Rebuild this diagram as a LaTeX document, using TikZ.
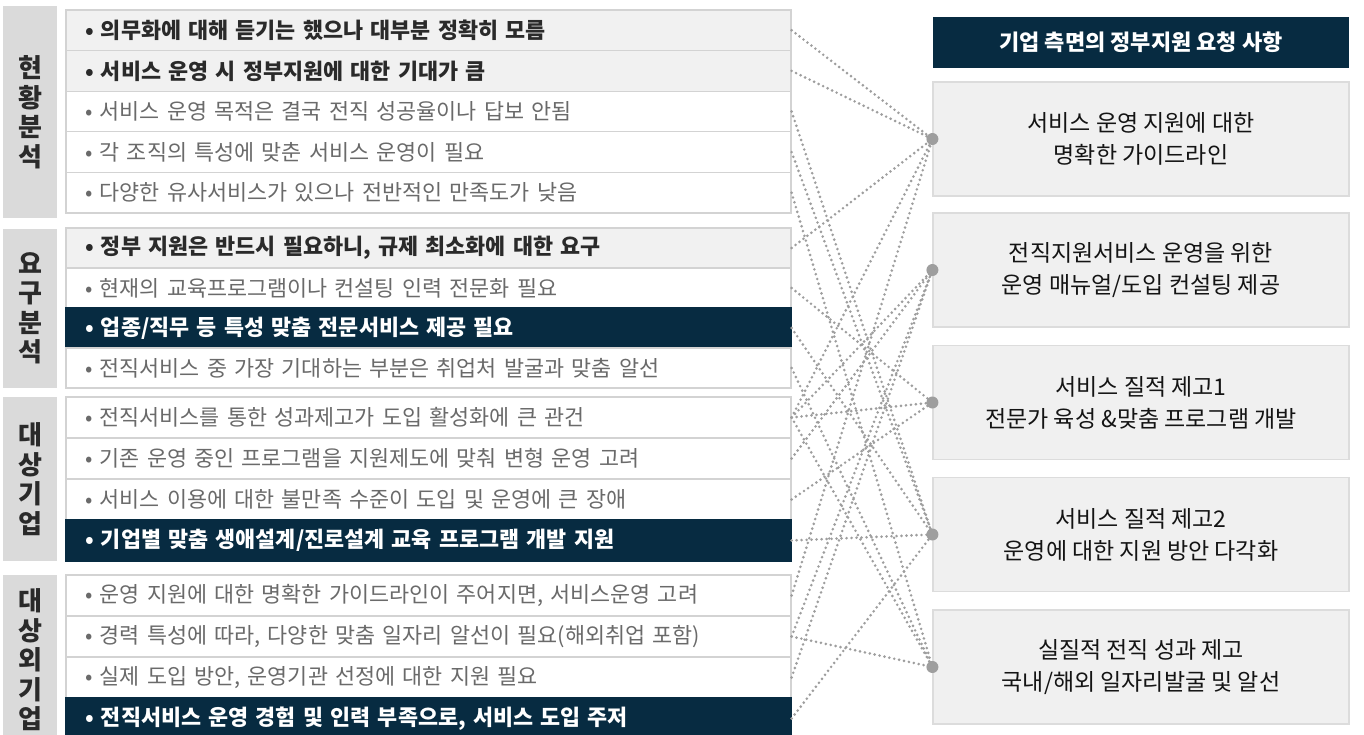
\documentclass[tikz,border=0pt]{standalone}
\usepackage{fontspec}
\setmainfont{Noto Sans CJK KR}
\definecolor{navy}{HTML}{072B41}
\definecolor{catgray}{HTML}{DADADA}
\definecolor{rowgray}{HTML}{F1F1F1}
\definecolor{rowline}{HTML}{D3D3D3}
\definecolor{txtgray}{HTML}{6A6A6A}
\definecolor{txtdark}{HTML}{2A2A2A}
\definecolor{boxfill}{HTML}{F0F0F0}
\definecolor{boxline}{HTML}{DCDCDC}
\definecolor{linegray}{HTML}{9E9E9E}
\begin{document}
\begin{tikzpicture}[x=1pt,y=-1pt,
  rowbase/.style={draw=rowline, line width=1.2pt, minimum width=725pt, minimum height=#1,
    text width=687pt, inner xsep=19pt, inner ysep=0pt, align=left, anchor=center},
  rowplain/.style={rowbase=#1, fill=white, text=txtgray, font=\fontsize{21.8}{26}\selectfont},
  rowhi/.style={rowbase=#1, fill=rowgray, text=txtdark, font=\fontsize{21.8}{26}\selectfont\bfseries},
  rownavy/.style={rowbase=#1, fill=navy, draw=navy, text=white, font=\fontsize{21.8}{26}\selectfont\bfseries},
  cat/.style={fill=catgray, draw=none, minimum width=54pt, minimum height=#1, inner sep=0pt,
    align=center, text=txtdark, font=\fontsize{26}{29.5}\selectfont\bfseries},
  head/.style={fill=navy, draw=none, minimum width=416pt, minimum height=51pt, text=white,
    font=\fontsize{22}{26}\selectfont\bfseries},
  rbox/.style={fill=boxfill, draw=boxline, line width=1.2pt, minimum width=416pt, minimum height=114pt,
    align=center, text=black!92, font=\fontsize{23}{32}\selectfont},
  conn/.style={draw=linegray, line width=2.9pt, line cap=round, dash pattern=on 0pt off 5pt},
  dot/.style={circle, fill=linegray, draw=none, minimum size=12pt, inner sep=0pt}
]
\useasboundingbox (0,0) rectangle (1364,734);
\fill[white] (0,0) rectangle (1364,734);

% category boxes
\node[cat=212pt] (c1) at (30,112) {현\\황\\분\\석};
\node[cat=159pt] (c2) at (30,308.5) {요\\구\\분\\석};
\node[cat=164pt] (c3) at (30,479) {대\\상\\기\\업};
\node[cat=170pt] (c4) at (30,660) {대\\상\\외\\기\\업};

% rows group 1
\node[rowhi=40.6pt] (r1) at (428.5,30.3) {• 의무화에 대해 듣기는 했으나 대부분 정확히 모름};
\node[rowhi=40.6pt] (r2) at (428.5,70.9) {• 서비스 운영 시 정부지원에 대한 기대가 큼};
\node[rowplain=40.6pt] (r3) at (428.5,111.5) {• 서비스 운영 목적은 결국 전직 성공율이나 답보 안됨};
\node[rowplain=40.6pt] (r4) at (428.5,152.1) {• 각 조직의 특성에 맞춘 서비스 운영이 필요};
\node[rowplain=40.6pt] (r5) at (428.5,192.7) {• 다양한 유사서비스가 있으나 전반적인 만족도가 낮음};
% group 2
\node[rowhi=40pt] (r6) at (428.5,248) {• 정부 지원은 반드시 필요하니, 규제 최소화에 대한 요구};
\node[rowplain=40pt] (r7) at (428.5,288) {• 현재의 교육프로그램이나 컨설팅 인력 전문화 필요};
\node[rownavy=40pt] (r8) at (428.5,328) {• 업종/직무 등 특성 맞춤 전문서비스 제공 필요};
\node[rowplain=40pt] (r9) at (428.5,368) {• 전직서비스 중 가장 기대하는 부분은 취업처 발굴과 맞춤 알선};
% group 3
\node[rowplain=41pt] (r10) at (428.5,417.5) {• 전직서비스를 통한 성과제고가 도입 활성화에 큰 관건};
\node[rowplain=41pt] (r11) at (428.5,458.5) {• 기존 운영 중인 프로그램을 지원제도에 맞춰 변형 운영 고려};
\node[rowplain=41pt] (r12) at (428.5,499.5) {• 서비스 이용에 대한 불만족 수준이 도입 및 운영에 큰 장애};
\node[rownavy=41pt] (r13) at (428.5,540.5) {• 기업별 맞춤 생애설계/진로설계 교육 프로그램 개발 지원};
% group 4
\node[rowplain=41pt] (r14) at (428.5,595.5) {• 운영 지원에 대한 명확한 가이드라인이 주어지면, 서비스운영 고려};
\node[rowplain=41pt] (r15) at (428.5,636.5) {• 경력 특성에 따라, 다양한 맞춤 일자리 알선이 필요(해외취업 포함)};
\node[rowplain=41pt] (r16) at (428.5,677.5) {• 실제 도입 방안, 운영기관 선정에 대한 지원 필요};
\node[rownavy=41pt] (r17) at (428.5,718.5) {• 전직서비스 운영 경험 및 인력 부족으로, 서비스 도입 주저};

% right side
\node[head] (h) at (1141,42.5) {기업 측면의 정부지원 요청 사항};
\node[rbox] (b1) at (1141,139) {서비스 운영 지원에 대한\\명확한 가이드라인};
\node[rbox] (b2) at (1141,270) {전직지원서비스 운영을 위한\\운영 매뉴얼/도입 컨설팅 제공};
\node[rbox] (b3) at (1141,402.5) {서비스 질적 제고1\\전문가 육성 \&맞춤 프로그램 개발};
\node[rbox] (b4) at (1141,534.5) {서비스 질적 제고2\\운영에 대한 지원 방안 다각화};
\node[rbox] (b5) at (1141,667) {실질적 전직 성과 제고\\국내/해외 일자리발굴 및 알선};

% connectors
\foreach \r in {r1,r2,r6,r10,r14} \draw[conn] (\r.east) -- (b1.west);
\foreach \r in {r10,r11,r15,r16} \draw[conn] (\r.east) -- (b2.west);
\foreach \r in {r7,r10,r12} \draw[conn] (\r.east) -- (b3.west);
\foreach \r in {r3,r4,r8,r13,r17} \draw[conn] (\r.east) -- (b4.west);
\foreach \r in {r5,r9,r10,r15} \draw[conn] (\r.east) -- (b5.west);

\node[dot] (d1) at (b1.west) {};
\node[dot] (d2) at (b2.west) {};
\node[dot] (d3) at (b3.west) {};
\node[dot] (d4) at (b4.west) {};
\node[dot] (d5) at (b5.west) {};
\end{tikzpicture}
\end{document}
